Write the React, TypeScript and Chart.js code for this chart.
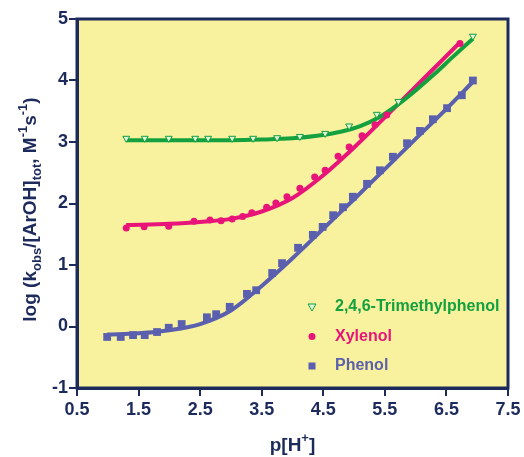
import React, { useEffect, useRef } from 'react';
import { Chart, registerables } from 'chart.js';

Chart.register(...registerables);

// ---- data ----
const xTicks = [0.5, 1.5, 2.5, 3.5, 4.5, 5.5, 6.5, 7.5];
const yTicks = [-1, 0, 1, 2, 3, 4, 5];

const seriesNames = ['2,4,6-Trimethylphenol', 'Xylenol', 'Phenol'];

const trimX = [1.30, 1.60, 1.99, 2.42, 2.63, 3.02, 3.36, 3.75, 4.12, 4.53, 4.92, 5.37, 5.72, 6.93];
const trimY = [3.06, 3.06, 3.06, 3.06, 3.06, 3.06, 3.06, 3.07, 3.09, 3.14, 3.26, 3.45, 3.66, 4.72];
const trimFitX = [1.30, 2.0, 3.0, 3.5, 4.0, 4.4, 4.8, 5.1, 5.4, 5.7, 6.0, 6.3, 6.6, 6.93];
const trimFitY = [3.03, 3.03, 3.03, 3.04, 3.06, 3.10, 3.17, 3.26, 3.40, 3.60, 3.84, 4.10, 4.38, 4.68];

const xylX = [1.30, 1.59, 1.99, 2.40, 2.66, 2.84, 3.02, 3.19, 3.34, 3.58, 3.73, 3.91, 4.12, 4.36, 4.53, 4.74, 4.92, 5.13, 5.34, 5.53, 6.72];
const xylY = [1.60, 1.62, 1.63, 1.71, 1.73, 1.72, 1.75, 1.79, 1.85, 1.94, 2.01, 2.11, 2.25, 2.43, 2.54, 2.77, 2.92, 3.10, 3.28, 3.44, 4.60];
const xylFitX = [1.30, 2.0, 2.5, 3.0, 3.5, 4.0, 4.5, 5.0, 5.5, 6.0, 6.4, 6.72];
const xylFitY = [1.65, 1.67, 1.70, 1.75, 1.87, 2.09, 2.46, 2.91, 3.40, 3.90, 4.30, 4.62];

const phX = [0.99, 1.21, 1.41, 1.60, 1.80, 1.99, 2.20, 2.61, 2.76, 2.98, 3.26, 3.41, 3.67, 3.83, 4.09, 4.33, 4.49, 4.66, 4.82, 4.98, 5.21, 5.42, 5.63, 5.86, 6.07, 6.28, 6.51, 6.75, 6.93];
const phY = [-0.17, -0.17, -0.14, -0.14, -0.09, -0.02, 0.04, 0.15, 0.20, 0.32, 0.53, 0.59, 0.87, 1.03, 1.28, 1.49, 1.62, 1.81, 1.94, 2.11, 2.32, 2.54, 2.76, 2.98, 3.18, 3.37, 3.55, 3.76, 4.00];
const phFitX = [0.99, 1.5, 2.0, 2.5, 3.0, 3.5, 4.0, 4.5, 5.0, 5.5, 6.0, 6.5, 6.93];
const phFitY = [-0.13, -0.11, -0.06, 0.04, 0.26, 0.66, 1.11, 1.59, 2.07, 2.56, 3.05, 3.54, 3.98];

// ---- styles ----
const NAVY = '#1d2b5c';
const YELLOW = '#f8f29e';
const GREEN = '#13a03e';
const GREEN_FILL = '#e2f3dc';
const PINK = '#e8147a';
const BLUE = '#5a5fae';
const FONT = '"Liberation Sans", Arial, sans-serif';

type Seg = { t: string; m?: 'sub' | 'sup' };
const yTitle: Seg[] = [
  { t: 'log (k' }, { t: 'obs', m: 'sub' }, { t: '/[ArOH]' }, { t: 'tot', m: 'sub' },
  { t: ', M' }, { t: '-1', m: 'sup' }, { t: 's' }, { t: '-1', m: 'sup' }, { t: ')' },
];
const xTitle: Seg[] = [{ t: 'p[H' }, { t: '+', m: 'sup' }, { t: ']' }];

function drawRich(ctx: CanvasRenderingContext2D, segs: Seg[], cx: number, cy: number, size: number, color: string) {
  const small = Math.round(size * 0.68);
  const fontFor = (s: Seg) => `bold ${s.m ? small : size}px ${FONT}`;
  let total = 0;
  const widths = segs.map((s) => {
    ctx.font = fontFor(s);
    const w = ctx.measureText(s.t).width;
    total += w;
    return w;
  });
  let x = cx - total / 2;
  ctx.fillStyle = color;
  ctx.textBaseline = 'middle';
  ctx.textAlign = 'left';
  segs.forEach((s, i) => {
    ctx.font = fontFor(s);
    let dy = 0;
    if (s.m === 'sub') dy = size * 0.32;
    if (s.m === 'sup') dy = -size * 0.38;
    ctx.fillText(s.t, x, cy + dy);
    x += widths[i];
  });
}

const decorPlugin = {
  id: 'decor',
  beforeDraw(chart: any) {
    const { ctx, chartArea: a } = chart;
    ctx.save();
    ctx.fillStyle = YELLOW;
    ctx.fillRect(a.left, a.top, a.right - a.left, a.bottom - a.top);
    ctx.restore();
  },
  afterDraw(chart: any) {
    const { ctx, chartArea: a } = chart;
    ctx.save();
    ctx.strokeStyle = NAVY;
    ctx.lineWidth = 3;
    ctx.strokeRect(a.left, a.top, a.right - a.left, a.bottom - a.top);

    // axis titles
    ctx.save();
    ctx.translate(31, (a.top + a.bottom) / 2 + 6);
    ctx.rotate(-Math.PI / 2);
    drawRich(ctx, yTitle, 0, 0, 19, NAVY);
    ctx.restore();
    drawRich(ctx, xTitle, (a.left + a.right) / 2, 446, 19, NAVY);

    // legend
    const colors = [GREEN, PINK, BLUE];
    const lx = a.left + 235;
    const ly = a.top + 288;
    seriesNames.forEach((name, i) => {
      const y = ly + i * 29.5;
      ctx.beginPath();
      if (i === 0) {
        ctx.moveTo(lx - 4, y - 3);
        ctx.lineTo(lx + 4, y - 3);
        ctx.lineTo(lx, y + 4);
        ctx.closePath();
        ctx.fillStyle = GREEN_FILL;
        ctx.fill();
        ctx.strokeStyle = GREEN;
        ctx.lineWidth = 1;
        ctx.stroke();
      } else if (i === 1) {
        ctx.arc(lx, y, 3.5, 0, Math.PI * 2);
        ctx.fillStyle = PINK;
        ctx.fill();
      } else {
        ctx.fillStyle = BLUE;
        ctx.fillRect(lx - 3.5, y - 3.5, 7, 7);
      }
      ctx.font = `bold 16px ${FONT}`;
      ctx.fillStyle = colors[i];
      ctx.textAlign = 'left';
      ctx.textBaseline = 'middle';
      ctx.fillText(name, lx + 23, y);
    });
    ctx.restore();
  },
};

const pts = (xs: number[], ys: number[]) => xs.map((x, i) => ({ x, y: ys[i] }));

export default function App() {
  const ref = useRef<HTMLCanvasElement | null>(null);
  useEffect(() => {
    if (!ref.current) return;
    const tickFont = { family: FONT, size: 18, weight: 'bold' as const };
    const chart = new Chart(ref.current, {
      type: 'scatter',
      data: {
        datasets: [
          { label: seriesNames[0] + ' fit', data: pts(trimFitX, trimFitY), showLine: true, borderColor: GREEN, borderWidth: 4, pointRadius: 0, cubicInterpolationMode: 'monotone', order: 2 },
          { label: seriesNames[1] + ' fit', data: pts(xylFitX, xylFitY), showLine: true, borderColor: PINK, borderWidth: 4, pointRadius: 0, cubicInterpolationMode: 'monotone', order: 2 },
          { label: seriesNames[2] + ' fit', data: pts(phFitX, phFitY), showLine: true, borderColor: BLUE, borderWidth: 4, pointRadius: 0, cubicInterpolationMode: 'monotone', order: 2 },
          { label: seriesNames[0], data: pts(trimX, trimY), pointStyle: 'triangle', rotation: 180, pointRadius: 4, backgroundColor: GREEN_FILL, borderColor: GREEN, borderWidth: 1, order: 1 },
          { label: seriesNames[1], data: pts(xylX, xylY), pointStyle: 'circle', pointRadius: 3.5, backgroundColor: PINK, borderColor: PINK, borderWidth: 0, order: 1 },
          { label: seriesNames[2], data: pts(phX, phY), pointStyle: 'rect', pointRadius: 5.5, backgroundColor: BLUE, borderColor: BLUE, borderWidth: 0, order: 1 },
        ] as any,
      },
      options: {
        animation: false,
        responsive: true,
        maintainAspectRatio: false,
        layout: { padding: { top: 19, right: 16, bottom: 0, left: 0 } },
        plugins: { legend: { display: false }, tooltip: { enabled: false } },
        scales: {
          x: {
            type: 'linear',
            min: 0.5,
            max: 7.5,
            afterBuildTicks: (s: any) => { s.ticks = xTicks.map((v) => ({ value: v })); },
            afterFit: (s: any) => { s.height = 69; },
            ticks: { color: NAVY, font: tickFont, padding: 3, maxRotation: 0, autoSkip: false, callback: (v: any) => Number(v).toFixed(1) },
            grid: { display: true, drawOnChartArea: false, drawTicks: true, tickLength: 8, color: NAVY, lineWidth: 2 },
            border: { display: true, color: NAVY, width: 3 },
          },
          y: {
            type: 'linear',
            min: -1,
            max: 5,
            afterBuildTicks: (s: any) => { s.ticks = yTicks.map((v) => ({ value: v })); },
            afterFit: (s: any) => { s.width = 77; },
            ticks: { color: NAVY, font: tickFont, padding: 1, autoSkip: false, callback: (v: any) => String(v) },
            grid: { display: true, drawOnChartArea: false, drawTicks: true, tickLength: 8, color: NAVY, lineWidth: 2 },
            border: { display: true, color: NAVY, width: 3 },
          },
        },
      },
      plugins: [decorPlugin],
    });
    return () => chart.destroy();
  }, []);
  return (
    <div style={{ position: 'fixed', left: 0, top: 0, width: 524, height: 457 }}>
      <canvas ref={ref} />
    </div>
  );
}
